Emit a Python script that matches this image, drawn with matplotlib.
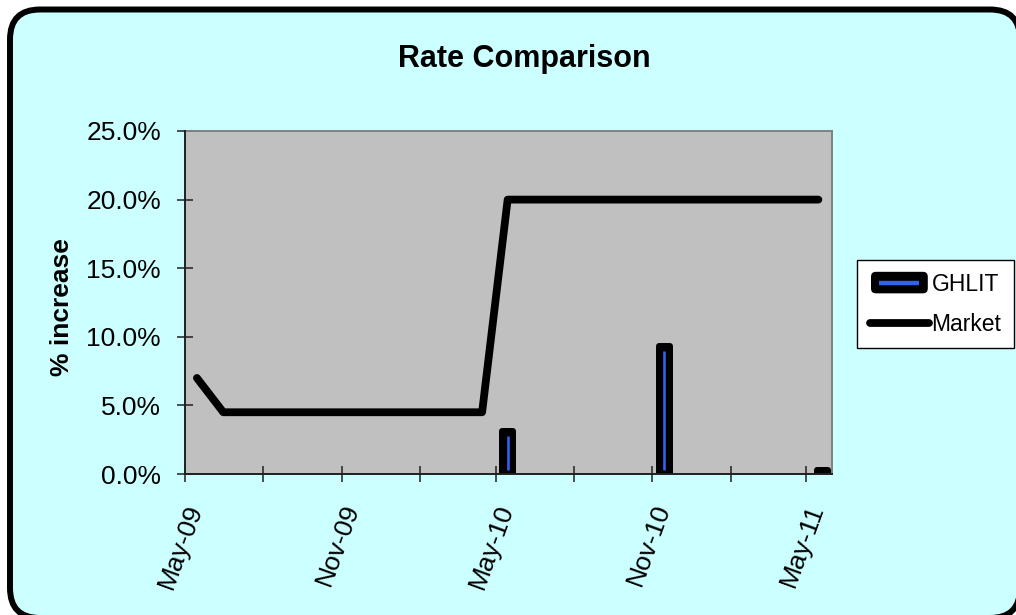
import matplotlib
matplotlib.use('Agg')
import matplotlib.pyplot as plt
import matplotlib.dates as mdates
import matplotlib.transforms as mtrans
from matplotlib.patches import FancyBboxPatch
from matplotlib.lines import Line2D
from matplotlib.legend_handler import HandlerBase
from matplotlib.ticker import FuncFormatter
import numpy as np
import datetime as dt

# ---------------- data ----------------
market_dates = ['2009-05-15', '2009-06-15', '2010-04-15', '2010-05-15', '2011-05-15']
market_values = [7.0, 4.5, 4.5, 20.0, 20.0]          # % increase
ghlit_dates = ['2010-05-15', '2010-11-15', '2011-05-20']
ghlit_values = [3.1, 9.3, 0.3]                        # % increase
y_ticks = [0, 5, 10, 15, 20, 25]
x_start, x_end = '2009-05-01', '2011-05-31'
series_names = ['GHLIT', 'Market']
title_text = 'Rate Comparison'
ylabel_text = '% increase'

plt.rcParams['font.family'] = ['Liberation Sans', 'DejaVu Sans']

BLUE = '#2F62EE'
BG = '#CCFFFF'
PLOT_BG = '#C0C0C0'

def to_num(ds):
    return np.array([mdates.date2num(dt.datetime.strptime(d, '%Y-%m-%d')) for d in ds])

W, H, DPI = 1016, 615, 100
fig = plt.figure(figsize=(W / DPI, H / DPI), dpi=DPI, facecolor='white')

# rounded chart-area frame (pixel coordinates)
frame = FancyBboxPatch((10, -3), 1010, 608.5,
                       boxstyle='round,pad=0,rounding_size=30',
                       facecolor=BG, edgecolor='black', linewidth=4.3,
                       transform=mtrans.IdentityTransform(), zorder=0)
fig.add_artist(frame)

ax = fig.add_axes([185 / W, (H - 474) / H, 647 / W, 343 / H])
ax.set_facecolor(PLOT_BG)

mx = to_num(market_dates)
gx = to_num(ghlit_dates)
gv = np.array(ghlit_values)

# GHLIT: black bars with thick rounded border and a thin blue core
bars = ax.bar(gx, gv, width=13, color='black', edgecolor='black',
              linewidth=4.3, joinstyle='round', zorder=3, label=series_names[0])
inset = 0.3
show = gv > 3 * inset
ax.vlines(gx[show], inset, gv[show] - inset, colors=BLUE, linewidth=1.9, zorder=3.5)

line, = ax.plot(mx, market_values, color='black', lw=5.6,
                solid_capstyle='round', solid_joinstyle='round', zorder=4,
                label=series_names[1])

ax.set_xlim(to_num([x_start])[0], to_num([x_end])[0])
ax.set_ylim(0, 25)
ax.set_yticks(y_ticks)
ax.yaxis.set_major_formatter(FuncFormatter(lambda v, p: f'{v:.1f}%'))

ax.xaxis.set_major_locator(mdates.MonthLocator(bymonth=[5, 11]))
ax.xaxis.set_minor_locator(mdates.MonthLocator(bymonth=[2, 8]))
ax.xaxis.set_major_formatter(mdates.DateFormatter('%b-%y'))

for s in ['left', 'bottom']:
    ax.spines[s].set_color('#202020')
    ax.spines[s].set_linewidth(1.4)
    ax.spines[s].set_zorder(5)
for s in ['top', 'right']:
    ax.spines[s].set_color('#808080')
    ax.spines[s].set_linewidth(1.4)

ax.tick_params(axis='both', which='both', direction='inout', length=11.5,
               width=1.1, color='#202020')
ax.tick_params(axis='y', labelsize=19, pad=11.5)
ax.tick_params(axis='x', labelsize=19, pad=16.5)

offset = mtrans.ScaledTranslation(11 / DPI, 0, fig.dpi_scale_trans)
for lab in ax.get_xticklabels():
    lab.set_rotation(70)
    lab.set_ha('right')
    lab.set_va('center')
    lab.set_rotation_mode('anchor')
    lab.set_transform(lab.get_transform() + offset)

fig.text(524 / W, 1 - 67 / H, title_text, fontsize=22, fontweight='bold',
         ha='center', va='baseline')
fig.text(62 / W, 1 - 307 / H, ylabel_text, fontsize=19, fontweight='bold',
         rotation=90, ha='center', va='center')


class GhlitHandler(HandlerBase):
    def create_artists(self, legend, orig_handle, xdescent, ydescent,
                       width, height, fontsize, trans):
        h = 15.5
        y0 = height / 2 - ydescent - h / 2
        box = FancyBboxPatch((-xdescent + 1, y0), width - 2, h,
                             boxstyle='round,pad=0,rounding_size=3.5',
                             facecolor='black', edgecolor='black', linewidth=0,
                             transform=trans)
        inner = Line2D([-xdescent + 7, -xdescent + width - 7],
                       [height / 2 - ydescent] * 2, color=BLUE, lw=3.2,
                       solid_capstyle='butt', transform=trans)
        return [box, inner]


leg = fig.legend([bars, line], series_names, loc='upper left',
                 bbox_to_anchor=(857 / W, 1 - 260 / H), borderaxespad=0,
                 fontsize=16.5, handlelength=2.6, handletextpad=0.1,
                 labelspacing=0.75, borderpad=0.55, fancybox=False,
                 frameon=True, facecolor='white', edgecolor='black',
                 framealpha=1, handler_map={bars: GhlitHandler()})
leg.get_frame().set_linewidth(1.0)

fig.savefig('out.png', dpi=DPI, facecolor='white')
